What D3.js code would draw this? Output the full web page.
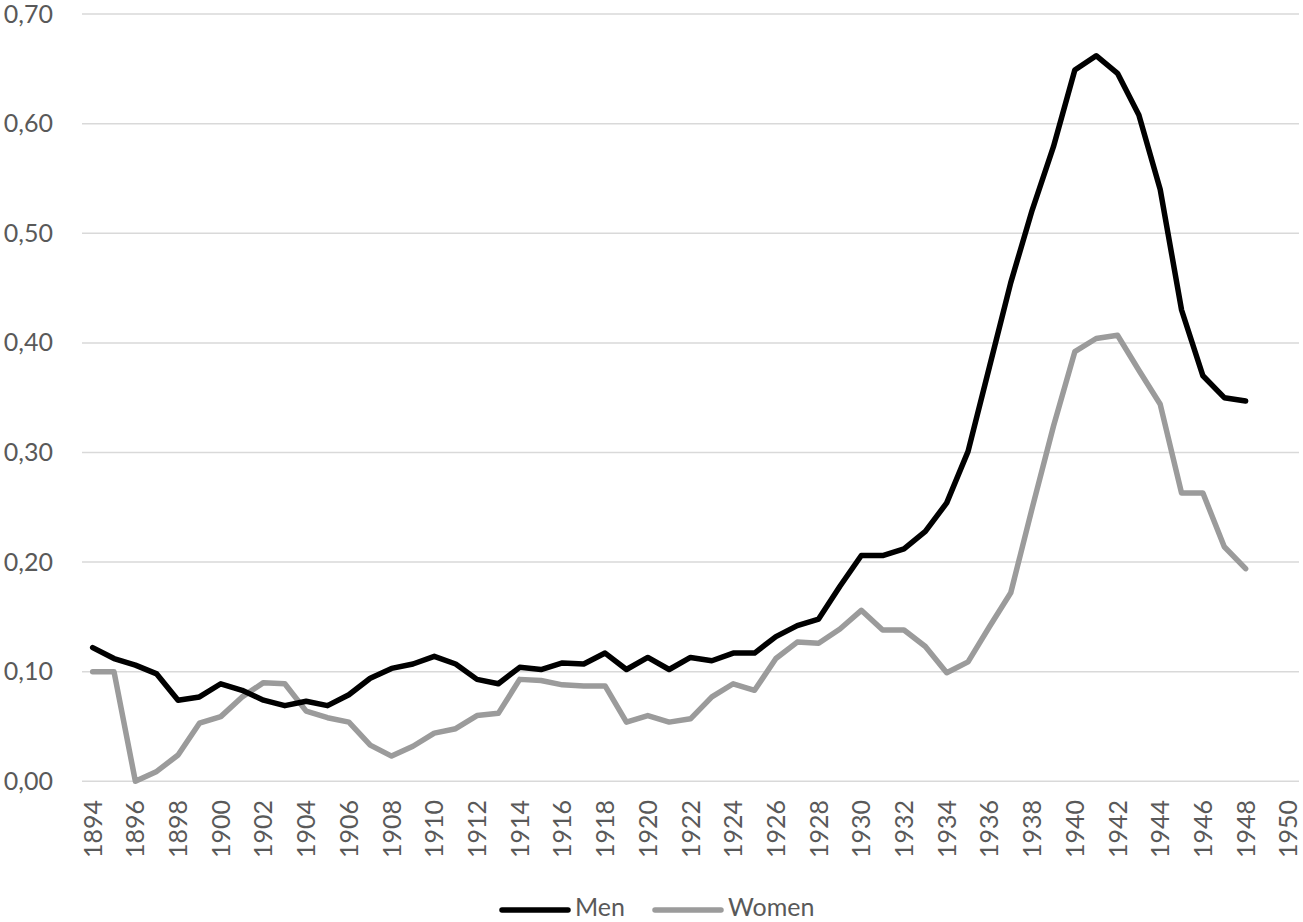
<!DOCTYPE html>
<html>
<head>
<meta charset="utf-8">
<script src="https://cdn.jsdelivr.net/npm/d3@7"></script>
<style>
  html, body { margin: 0; padding: 0; background: #fff; }
  svg { display: block; }
  text { font-family: Lato, "Open Sans", sans-serif; fill: #595959; }
</style>
</head>
<body>
<svg id="chart" width="1303" height="922"></svg>
<script>
// Category axis (years) and tick labels
const categories = [1894,1895,1896,1897,1898,1899,1900,1901,1902,1903,1904,1905,1906,1907,1908,1909,1910,
  1911,1912,1913,1914,1915,1916,1917,1918,1919,1920,1921,1922,1923,1924,1925,1926,1927,1928,1929,1930,
  1931,1932,1933,1934,1935,1936,1937,1938,1939,1940,1941,1942,1943,1944,1945,1946,1947,1948,1949,1950];
const xTickLabels = [1894,1896,1898,1900,1902,1904,1906,1908,1910,1912,1914,1916,1918,1920,1922,1924,
  1926,1928,1930,1932,1934,1936,1938,1940,1942,1944,1946,1948,1950];
const yTicks = [0, 0.1, 0.2, 0.3, 0.4, 0.5, 0.6, 0.7];

// Series (1894 .. 1948)
const dataYears = [1894,1895,1896,1897,1898,1899,1900,1901,1902,1903,1904,1905,1906,1907,1908,1909,1910,
  1911,1912,1913,1914,1915,1916,1917,1918,1919,1920,1921,1922,1923,1924,1925,1926,1927,1928,1929,1930,
  1931,1932,1933,1934,1935,1936,1937,1938,1939,1940,1941,1942,1943,1944,1945,1946,1947,1948];
const men = [0.122,0.112,0.106,0.098,0.074,0.077,0.089,0.083,0.074,0.069,0.073,0.069,0.079,0.094,0.103,
  0.107,0.114,0.107,0.093,0.089,0.104,0.102,0.108,0.107,0.117,0.102,0.113,0.102,0.113,0.110,0.117,0.117,
  0.132,0.142,0.148,0.178,0.206,0.206,0.212,0.228,0.254,0.301,0.378,0.455,0.521,0.579,0.649,0.662,0.646,
  0.608,0.540,0.430,0.370,0.350,0.347];
const women = [0.100,0.100,0.000,0.009,0.024,0.053,0.059,0.077,0.090,0.089,0.064,0.058,0.054,0.033,0.023,
  0.032,0.044,0.048,0.060,0.062,0.093,0.092,0.088,0.087,0.087,0.054,0.060,0.054,0.057,0.077,0.089,0.083,
  0.112,0.127,0.126,0.139,0.156,0.138,0.138,0.123,0.099,0.109,0.141,0.172,0.249,0.324,0.392,0.404,0.407,
  0.375,0.344,0.263,0.263,0.214,0.194];
const seriesNames = ["Men", "Women"];
const seriesColors = ["#000000", "#9b9b9b"];

(function () {
const svg = d3.select("#chart");
const plotLeft = 82, plotRight = 1299, plotTop = 14.1, plotBottom = 781.3;

const x = d3.scalePoint().domain(categories).range([plotLeft, plotRight]).padding(0.5);
const y = d3.scaleLinear().domain([0, 0.7]).range([plotBottom, plotTop]);

const locale = d3.formatLocale({decimal: ",", thousands: ".", grouping: [3], currency: ["", ""]});
const fmt = locale.format(".2f");

// Gridlines
svg.append("g").selectAll("line").data(yTicks).join("line")
  .attr("x1", plotLeft).attr("x2", plotRight)
  .attr("y1", d => y(d)).attr("y2", d => y(d))
  .attr("stroke", "#d9d9d9").attr("stroke-width", 1.5);

// Y axis labels
const yAxis = d3.axisLeft(y).tickValues(yTicks).tickFormat(fmt).tickSize(0).tickPadding(0);
const gy = svg.append("g").attr("transform", "translate(53,0)").call(yAxis);
gy.select(".domain").remove();
gy.selectAll("text").attr("font-size", 25).attr("fill", "#595959")
  .style("font-family", "Lato, 'Open Sans', sans-serif");

// X axis labels (rotated)
svg.append("g").selectAll("text").data(xTickLabels).join("text")
  .attr("transform", d => `translate(${x(d)},800) rotate(-90)`)
  .attr("text-anchor", "end")
  .attr("dy", "0.36em")
  .attr("font-size", 25)
  .text(d => d);

// Lines
const seriesData = [men, women];
const line = d3.line().x((d, i) => x(dataYears[i])).y(d => y(d));
[1, 0].forEach(k => {
  svg.append("path")
    .datum(seriesData[k])
    .attr("d", line)
    .attr("fill", "none")
    .attr("stroke", seriesColors[k])
    .attr("stroke-width", 5.5)
    .attr("stroke-linejoin", "round")
    .attr("stroke-linecap", "round");
});

// Legend
const legendX = [502, 655];
const lg = svg.append("g");
seriesNames.forEach((name, k) => {
  const x0 = legendX[k];
  lg.append("line").attr("x1", x0).attr("x2", x0 + 66)
    .attr("y1", 910).attr("y2", 910)
    .attr("stroke", seriesColors[k]).attr("stroke-width", 5.5).attr("stroke-linecap", "round");
  lg.append("text").attr("x", x0 + 73).attr("y", 916).attr("font-size", 25).text(name);
});
})();
</script>
</body>
</html>
